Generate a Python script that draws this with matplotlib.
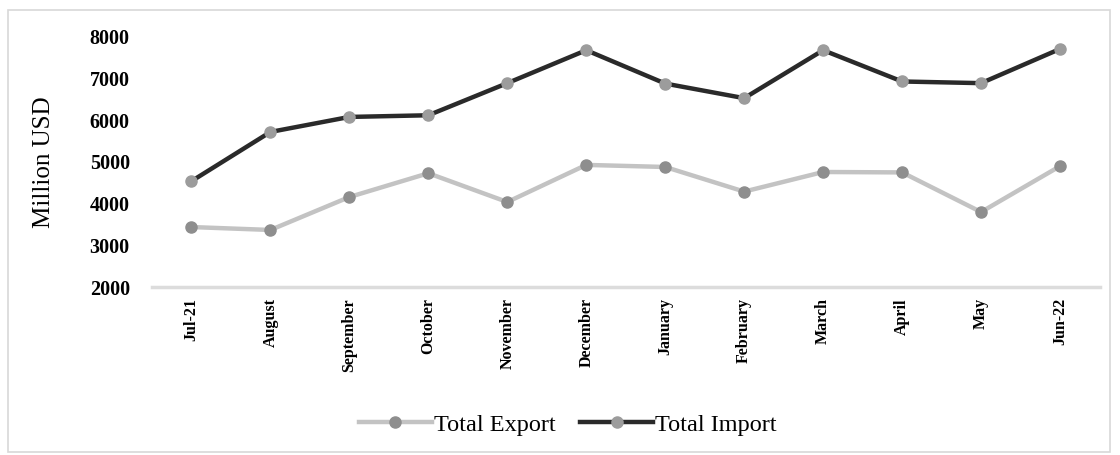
import matplotlib.pyplot as plt
from matplotlib.patches import Rectangle

months = ['Jul-21', 'August', 'September', 'October', 'November', 'December',
          'January', 'February', 'March', 'April', 'May', 'Jun-22']
total_export = [3440, 3370, 4160, 4730, 4040, 4930, 4880, 4290, 4760, 4750, 3800, 4900]
total_import = [4540, 5720, 6080, 6120, 6890, 7680, 6880, 6530, 7680, 6930, 6890, 7710]

plt.rcParams['font.family'] = ['Liberation Serif', 'DejaVu Serif']

fig = plt.figure(figsize=(11.2, 4.55), dpi=100)
ax = fig.add_axes([0.1357, 0.369, 0.846, 0.55])

x = list(range(len(months)))
ax.plot(x, total_export, '-o', color='#c3c3c3', lw=3.2, ms=8,
        mfc='#8e8e8e', mec='#8e8e8e', label='Total Export')
ax.plot(x, total_import, '-o', color='#2a2a2a', lw=3.2, ms=8,
        mfc='#9c9c9c', mec='#9c9c9c', label='Total Import')

ax.set_xlim(-0.5, 11.5)
ax.set_ylim(2000, 8000)
ax.set_yticks([2000, 3000, 4000, 5000, 6000, 7000, 8000])
ax.set_xticks(x)
ax.set_xticklabels(months, rotation=90, fontsize=11.5, fontweight='bold')
for t in ax.get_yticklabels():
    t.set_fontsize(14.5)
    t.set_fontweight('bold')
ax.tick_params(length=0)
ax.tick_params(axis='y', pad=16)
ax.tick_params(axis='x', pad=8)

for side in ['top', 'right', 'left']:
    ax.spines[side].set_visible(False)
ax.spines['bottom'].set_color('#dcdcdc')
ax.spines['bottom'].set_linewidth(2.5)

ax.set_ylabel('Million USD', fontsize=18)
ax.yaxis.set_label_coords(-0.102, 0.5)

fig.legend(loc='center', bbox_to_anchor=(0.507, 0.066), ncol=2, frameon=False,
           fontsize=17.5, handlelength=3.0, handletextpad=0.1, columnspacing=1.0)

# light frame round the whole chart
fig.patches.append(Rectangle((8 / 1120, 3 / 455), 1102 / 1120, 442 / 455,
                             transform=fig.transFigure, fill=False,
                             edgecolor='#d8d8d8', lw=1.2))

fig.savefig('out.png', dpi=100)
